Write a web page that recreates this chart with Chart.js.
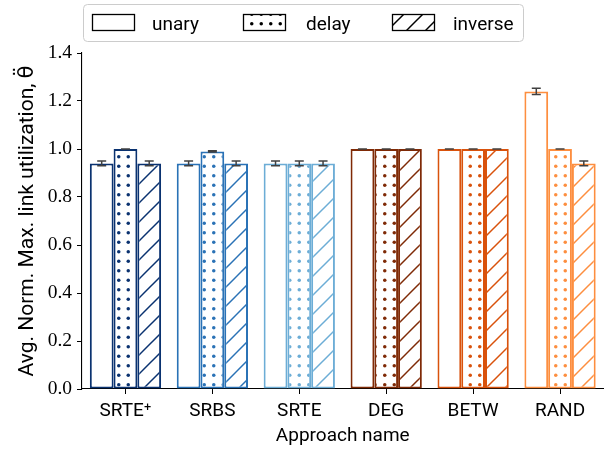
<!DOCTYPE html>
<html>
<head>
<meta charset="utf-8">
<script src="https://cdn.jsdelivr.net/npm/chart.js@4.4.1/dist/chart.umd.min.js"></script>
<style>
  html, body { margin: 0; padding: 0; background: #fff; }
  #wrap { width: 608px; height: 449px; }
</style>
</head>
<body>
<div id="wrap"><canvas id="c" width="608" height="449"></canvas></div>
<script>
// Approaches on the x axis
const categories = ['SRTE\u207A', 'SRBS', 'SRTE', 'DEG', 'BETW', 'RAND'];
const seriesNames = ['unary', 'delay', 'inverse'];

// Mean normalised max link utilisation per approach
const unaryValues   = [0.94, 0.94, 0.94, 1.00, 1.00, 1.24];
const delayValues   = [1.00, 0.99, 0.94, 1.00, 1.00, 1.00];
const inverseValues = [0.94, 0.94, 0.94, 1.00, 1.00, 0.94];

// Error (half-height of the whisker) per approach
const unaryErr   = [0.010, 0.010, 0.010, 0.000, 0.000, 0.013];
const delayErr   = [0.000, 0.003, 0.010, 0.000, 0.000, 0.000];
const inverseErr = [0.010, 0.010, 0.010, 0.000, 0.000, 0.010];

const yTicks = [0.0, 0.2, 0.4, 0.6, 0.8, 1.0, 1.2, 1.4];

// One colour per approach (blues for SR variants, oranges for heuristics)
const approachColors = ['#0a3270', '#2a72b6', '#6cadd6', '#7f2a06', '#d9520c', '#fd8e3f'];

const SANS = 'Roboto, "DejaVu Sans", sans-serif';
const SERIF = '"Liberation Serif", "DejaVu Serif", serif';

function makePattern(kind, color) {
  const size = 19;
  const cv = document.createElement('canvas');
  cv.width = size; cv.height = size;
  const g = cv.getContext('2d');
  g.fillStyle = '#ffffff';
  g.fillRect(0, 0, size, size);
  if (kind === 'dots') {
    g.fillStyle = color;
    for (let i = 0; i < 2; i++) {
      for (let j = 0; j < 2; j++) {
        g.beginPath();
        g.arc((i + 0.5) * size / 2, (j + 0.5) * size / 2, 1.75, 0, Math.PI * 2);
        g.fill();
      }
    }
  } else if (kind === 'slash') {
    g.strokeStyle = color;
    g.lineWidth = 1.5;
    for (let k = -1; k <= 1; k++) {
      g.beginPath();
      g.moveTo(k * size - 1, size + 1);
      g.lineTo(k * size + size + 1, -1);
      g.stroke();
    }
  }
  return g.createPattern(cv, 'repeat');
}

const valueLists = [unaryValues, delayValues, inverseValues];
const errLists = [unaryErr, delayErr, inverseErr];
const fillKinds = ['none', 'dots', 'slash'];

const datasets = seriesNames.map((name, si) => ({
  label: name,
  data: valueLists[si],
  backgroundColor: approachColors.map(c => fillKinds[si] === 'none' ? '#ffffff' : makePattern(fillKinds[si], c)),
  borderColor: approachColors,
  borderWidth: 2,
  borderSkipped: false,
  barPercentage: 1.0,
  categoryPercentage: 0.82
}));

// Whiskers drawn over each bar from the error arrays
const errorBars = {
  id: 'errorBars',
  afterDatasetsDraw(chart) {
    const ctx = chart.ctx;
    const ys = chart.scales.y;
    ctx.save();
    ctx.strokeStyle = '#404040';
    ctx.lineWidth = 1.5;
    errLists.forEach((errs, di) => {
      const meta = chart.getDatasetMeta(di);
      meta.data.forEach((bar, i) => {
        const v = valueLists[di][i];
        const e = errs[i];
        const x = bar.x;
        const yLo = ys.getPixelForValue(v - e);
        const yHi = ys.getPixelForValue(v + e);
        ctx.beginPath();
        ctx.moveTo(x, yLo); ctx.lineTo(x, yHi);
        ctx.moveTo(x - 4.5, yLo); ctx.lineTo(x + 4.5, yLo);
        ctx.moveTo(x - 4.5, yHi); ctx.lineTo(x + 4.5, yHi);
        ctx.stroke();
      });
    });
    ctx.restore();
  }
};

// Framed legend across the top with hatch swatches
const hatchLegend = {
  id: 'hatchLegend',
  afterDraw(chart) {
    const ctx = chart.ctx;
    ctx.save();
    const bx = 83.5, by = 4.5, bw = 440, bh = 37, r = 4;
    ctx.beginPath();
    ctx.moveTo(bx + r, by);
    ctx.arcTo(bx + bw, by, bx + bw, by + bh, r);
    ctx.arcTo(bx + bw, by + bh, bx, by + bh, r);
    ctx.arcTo(bx, by + bh, bx, by, r);
    ctx.arcTo(bx, by, bx + bw, by, r);
    ctx.closePath();
    ctx.fillStyle = 'rgba(255,255,255,0.85)';
    ctx.fill();
    ctx.strokeStyle = '#cccccc';
    ctx.lineWidth = 1;
    ctx.stroke();

    const swatchX = [92.5, 243.5, 392.5];
    const textX = [152, 306, 453];
    seriesNames.forEach((name, si) => {
      const sx = swatchX[si], sy = 14.5, sw = 42, sh = 16;
      ctx.fillStyle = fillKinds[si] === 'none' ? '#ffffff' : makePattern(fillKinds[si], '#000000');
      ctx.fillRect(sx, sy, sw, sh);
      ctx.strokeStyle = '#000000';
      ctx.lineWidth = 1.3;
      ctx.strokeRect(sx, sy, sw, sh);
      ctx.fillStyle = '#000000';
      ctx.font = '19px ' + SANS;
      ctx.textBaseline = 'alphabetic';
      ctx.textAlign = 'left';
      ctx.fillText(name, textX[si], 29.5);
    });
    ctx.restore();
  }
};

new Chart(document.getElementById('c'), {
  type: 'bar',
  data: { labels: categories, datasets },
  options: {
    responsive: false,
    animation: false,
    devicePixelRatio: 1,
    layout: { padding: { top: 53, right: 4.5, bottom: 0, left: 0 } },
    plugins: {
      legend: { display: false },
      tooltip: { enabled: false }
    },
    scales: {
      x: {
        type: 'category',
        offset: true,
        grid: { display: true, drawOnChartArea: false, drawTicks: true, tickLength: 5, color: '#000', offset: false },
        border: { display: true, color: '#000', width: 1.1 },
        ticks: { color: '#000', font: { family: SANS, size: 19 }, padding: 6, maxRotation: 0, autoSkip: false },
        title: {
          display: true, text: 'Approach name', color: '#000',
          font: { family: SANS, size: 19, lineHeight: 1 },
          padding: { top: 0, bottom: 3 }
        },
        afterFit(s) { s.height = 60; }
      },
      y: {
        min: 0, max: 1.4,
        afterBuildTicks(s) { s.ticks = yTicks.map(v => ({ value: v })); },
        grid: { display: true, drawOnChartArea: false, drawTicks: true, tickLength: 5, color: '#000' },
        border: { display: true, color: '#000', width: 1.1 },
        ticks: { color: '#000', font: { family: SERIF, size: 19.5 }, padding: 5, callback: v => Number(v).toFixed(1) },
        title: {
          display: true, text: 'Avg. Norm. Max. link utilization, \u03B8\u0308', color: '#000',
          font: { family: SANS, size: 21, lineHeight: 1 },
          padding: { top: 17, bottom: 0 }
        },
        afterFit(s) { s.width = 82; }
      }
    }
  },
  plugins: [errorBars, hatchLegend]
});
</script>
</body>
</html>
